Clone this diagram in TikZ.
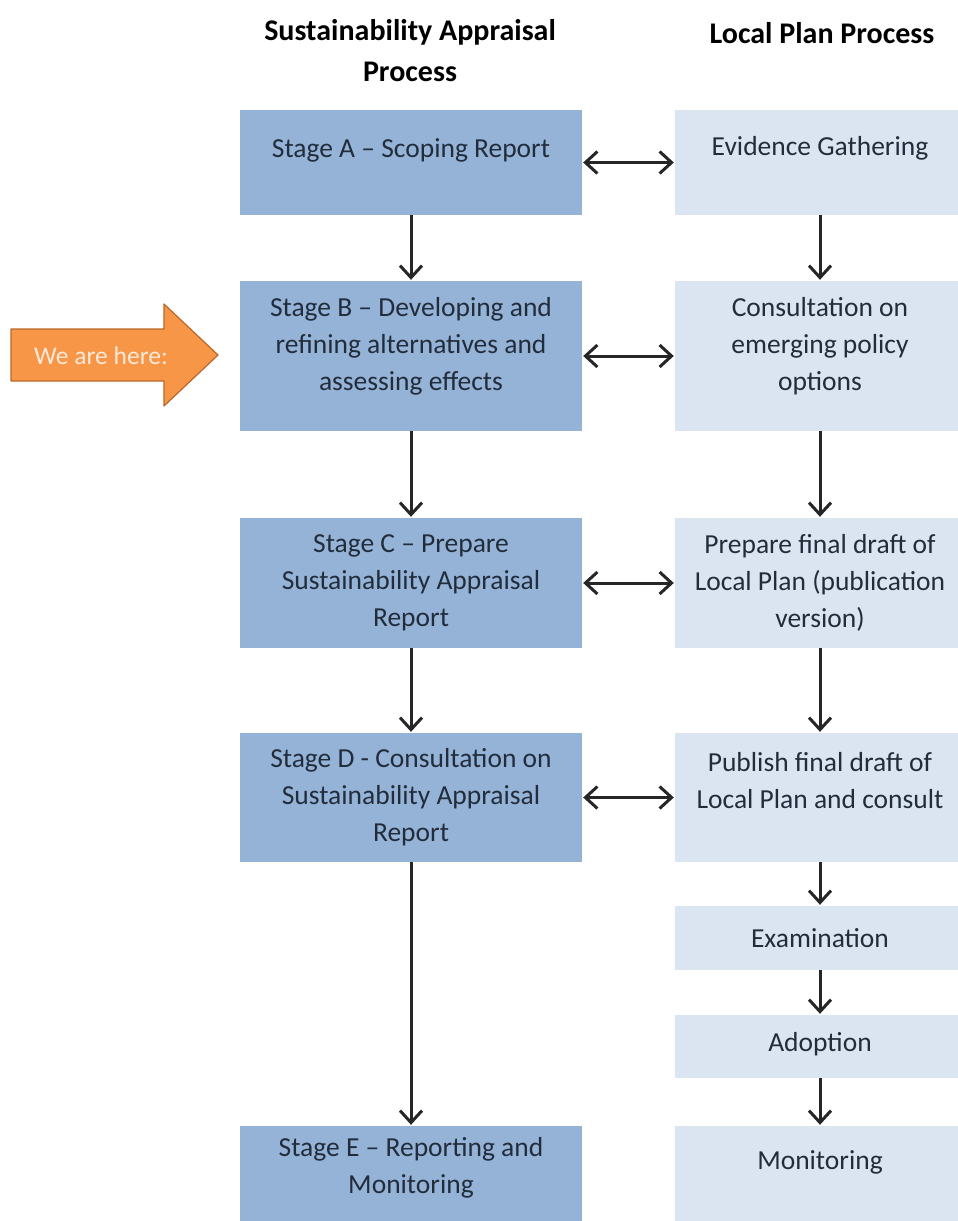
\documentclass[tikz,border=0pt]{standalone}
\usepackage{fontspec}
\setmainfont{Carlito}
\usetikzlibrary{arrows.meta}
\definecolor{saBlue}{HTML}{95B3D7}
\definecolor{lpBlue}{HTML}{DBE5F1}
\definecolor{boxInk}{HTML}{222D3C}
\definecolor{hereOrange}{HTML}{F79646}
\definecolor{hereEdge}{HTML}{B8682A}
\definecolor{hereInk}{HTML}{FDE9D9}

\begin{document}
\begin{tikzpicture}[x=1pt, y=-1pt,
  saBox/.style={fill=saBlue, minimum width=342pt, inner sep=0pt},
  lpBox/.style={fill=lpBlue, minimum width=290pt, inner sep=0pt},
  boxText/.style={text=boxInk, align=center, inner sep=0pt, font=\fontsize{27.5}{37}\selectfont},
  headText/.style={align=center, inner sep=0pt, font=\bfseries\fontsize{30}{41}\selectfont},
  flowArrow/.style={draw=black!85, line width=3pt, shorten >=1pt, -{Straight Barb[length=12pt,width=22pt]}},
  linkArrow/.style={flowArrow, shorten <=1pt, {Straight Barb[length=12pt,width=22pt]}-{Straight Barb[length=12pt,width=22pt]}}
]
\useasboundingbox (0,0) rectangle (958,1221);

% headings
\node [headText] (saHead) at (410,51) {Sustainability Appraisal\\Process};
\node [headText] (lpHead) at (822,33) {Local Plan Process};

% sustainability appraisal column
\node [saBox, minimum height=105pt] (stageA) at (411,162.5) {};
\node [saBox, minimum height=150pt] (stageB) at (411,356) {};
\node [saBox, minimum height=130pt] (stageC) at (411,583) {};
\node [saBox, minimum height=129pt] (stageD) at (411,797.5) {};
\node [saBox, minimum height=104pt] (stageE) at (411,1178) {};

\node [boxText] (stageAText) at ([yshift=12pt]stageA.center) {Stage A -- Scoping Report};
\node [boxText] (stageBText) at ([yshift=10pt]stageB.center) {Stage B -- Developing and\\refining alternatives and\\assessing effects};
\node [boxText] (stageCText) at (stageC.center) {Stage C -- Prepare\\Sustainability Appraisal\\Report};
\node [boxText] (stageDText) at (stageD.center) {Stage D - Consultation on\\Sustainability Appraisal\\Report};
\node [boxText] (stageEText) at ([yshift=10pt]stageE.center) {Stage E -- Reporting and\\Monitoring};

% local plan column
\node [lpBox, minimum height=105pt] (evidence) at (820,162.5) {};
\node [lpBox, minimum height=150pt] (consult) at (820,356) {};
\node [lpBox, minimum height=130pt] (draftPlan) at (820,583) {};
\node [lpBox, minimum height=129pt] (publish) at (820,797.5) {};
\node [lpBox, minimum height=64pt] (exam) at (820,938) {};
\node [lpBox, minimum height=63pt] (adoption) at (820,1046.5) {};
\node [lpBox, minimum height=104pt] (monitor) at (820,1178) {};

\node [boxText] (evidenceText) at ([yshift=14pt]evidence.center) {Evidence Gathering};
\node [boxText] (consultText) at ([yshift=10pt]consult.center) {Consultation on\\emerging policy\\options};
\node [boxText] (draftPlanText) at (draftPlan.center) {Prepare final draft of\\Local Plan (publication\\version)};
\node [boxText] (publishText) at ([yshift=17pt]publish.center) {Publish final draft of\\Local Plan and consult};
\node [boxText] (examText) at (exam.center) {Examination};
\node [boxText] (adoptionText) at ([yshift=2pt]adoption.center) {Adoption};
\node [boxText] (monitorText) at ([yshift=16pt]monitor.center) {Monitoring};

% arrows down
\draw [flowArrow] (stageA) -- (stageB);
\draw [flowArrow] (stageB) -- (stageC);
\draw [flowArrow] (stageC) -- (stageD);
\draw [flowArrow] (stageD) -- (stageE);
\draw [flowArrow] (evidence) -- (consult);
\draw [flowArrow] (consult) -- (draftPlan);
\draw [flowArrow] (draftPlan) -- (publish);
\draw [flowArrow] (publish) -- (exam);
\draw [flowArrow] (exam) -- (adoption);
\draw [flowArrow] (adoption) -- (monitor);

% links across
\draw [linkArrow] (stageA) -- (evidence);
\draw [linkArrow] (stageB) -- (consult);
\draw [linkArrow] (stageC) -- (draftPlan);
\draw [linkArrow] (stageD) -- (publish);

% we are here
\draw [fill=hereOrange, draw=hereEdge, line width=1.2pt, line join=round]
  (11,329) -- (164,329) -- (164,304) -- (218,355) -- (164,406) -- (164,381) -- (11,381) -- cycle;
\node [text=hereInk, inner sep=0pt, font=\fontsize{25.5}{30}\selectfont] (hereText) at (101,356) {We are here:};
\end{tikzpicture}
\end{document}
